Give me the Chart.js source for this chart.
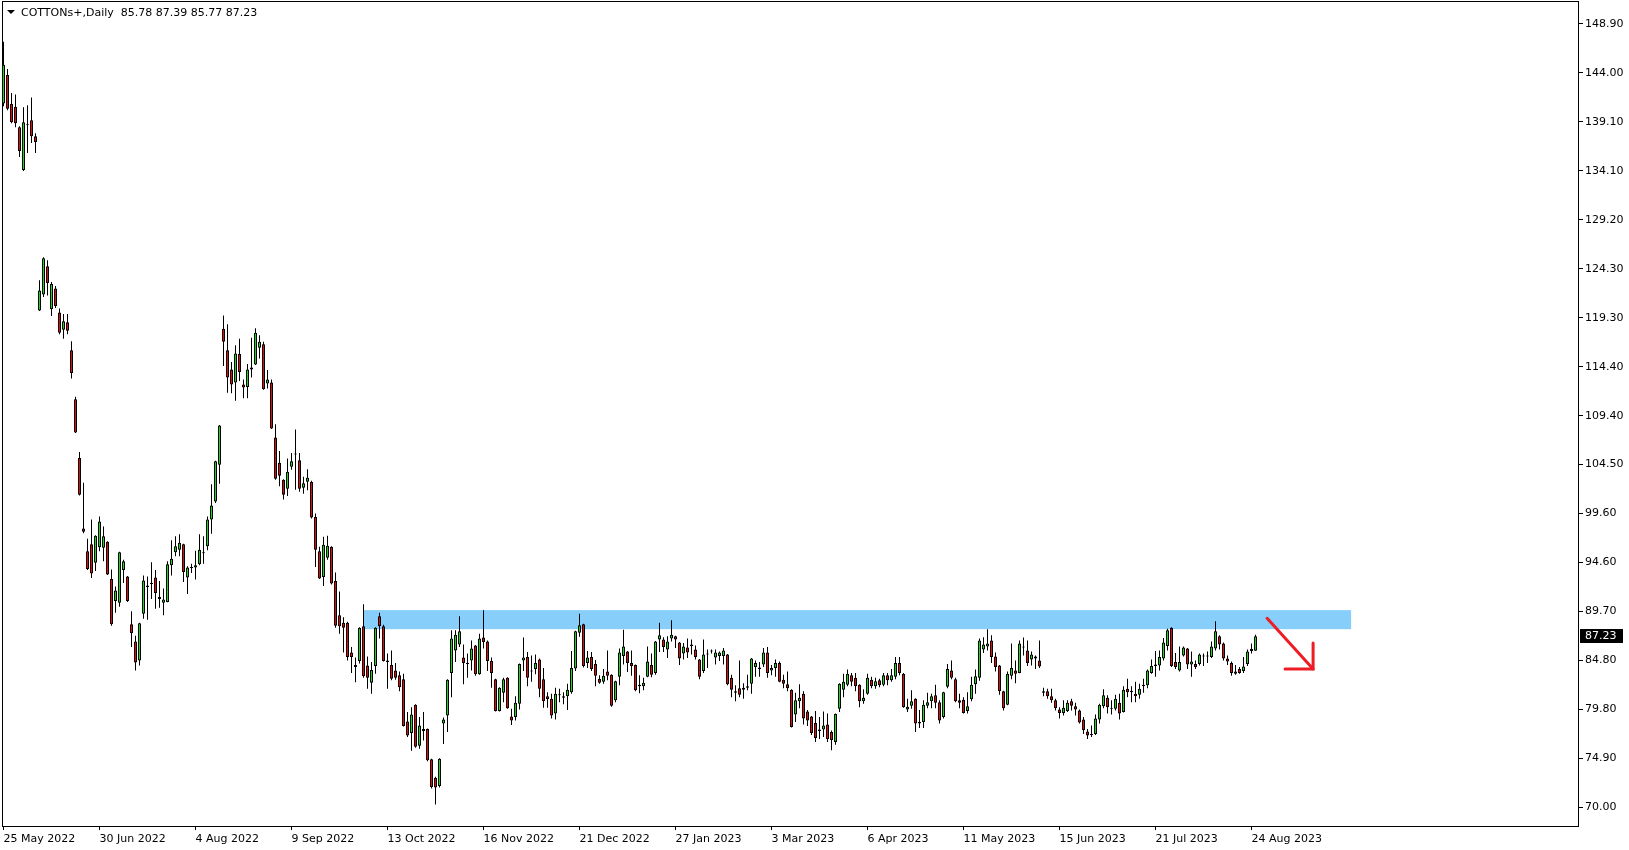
<!DOCTYPE html>
<html>
<head>
<meta charset="utf-8">
<script src="https://cdn.jsdelivr.net/npm/chart.js@4.4.0/dist/chart.umd.min.js"></script>
<style>
  html, body { margin: 0; padding: 0; background: #fff; }
  canvas { display: block; }
</style>
</head>
<body>
<canvas id="chart" width="1629" height="850"></canvas>
<script>
// Daily candles, one per trading day, index 0 = 25 May 2022
const opens = [
  140.9, 143.75, 140.85, 140.55, 138.5, 134.2, 138.75, 139.2, 137.6, 120.05,
  121.65, 124.5, 120.2, 122.25, 119.85, 118.1, 118.85, 116.05, 111.1, 105.2,
  98.1, 95.8, 96.5, 94.65, 96.2, 96.15, 96.75, 93.0, 90.8, 90.6,
  93.9, 93.25, 88.45, 86.7, 84.8, 89.5, 92.2, 92.5, 93.15, 91.2,
  90.6, 90.7, 94.4, 95.7, 95.95, 96.5, 93.15, 94.1, 94.15, 94.5,
  95.6, 96.3, 99.0, 100.8, 104.5, 118.2, 116.05, 114.1, 112.8, 115.65,
  112.6, 112.35, 114.3, 114.6, 116.3, 116.65, 112.7, 112.8, 107.25, 104.7,
  103.0, 102.1, 104.3, 105.55, 104.95, 102.2, 102.8, 102.8, 99.25, 95.8,
  93.2, 95.15, 96.25, 92.8, 89.35, 88.6, 88.6, 85.6, 84.35, 84.75,
  88.25, 84.3, 82.55, 84.25, 89.25, 88.25, 84.8, 84.35, 83.8, 83.3,
  82.9, 78.65, 77.5, 80.35, 76.2, 77.9, 77.9, 74.85, 73.0, 72.15,
  78.45, 79.25, 83.55, 85.8, 86.4, 85.1, 84.5, 84.8, 86.3, 83.4,
  87.1, 86.7, 84.75, 82.9, 79.7, 81.55, 83.05, 79.15, 79.1, 80.45,
  84.8, 85.15, 83.75, 83.95, 84.9, 82.9, 81.2, 80.95, 79.45, 81.35,
  81.2, 81.2, 81.6, 84.0, 87.6, 88.45, 84.55, 85.15, 84.45, 82.95,
  82.65, 83.7, 83.35, 80.8, 83.15, 85.25, 85.7, 84.55, 84.35, 82.35,
  82.2, 83.15, 84.35, 83.55, 86.9, 86.9, 85.9, 87.0, 87.25, 86.6,
  85.5, 86.1, 86.4, 85.9, 84.9, 83.75, 85.45, 85.75, 85.1, 85.25,
  85.25, 85.4, 83.05, 81.7, 82.0, 82.05, 82.05, 82.45, 84.15, 84.1,
  84.4, 85.6, 83.8, 84.05, 84.55, 82.85, 82.4, 81.85, 79.35, 80.7,
  81.45, 79.65, 79.15, 78.5, 77.85, 77.85, 78.35, 77.6, 76.6, 79.95,
  81.85, 82.35, 83.3, 83.05, 82.35, 80.7, 81.45, 82.85, 82.2, 82.8,
  82.35, 83.3, 82.8, 83.15, 84.55, 83.45, 79.85, 80.25, 80.95, 78.6,
  78.6, 80.25, 80.7, 81.3, 80.6, 79.1, 82.15, 83.8, 82.9, 80.8,
  80.85, 79.7, 80.9, 82.4, 83.05, 85.9, 86.2, 86.8, 85.2, 84.3,
  81.7, 80.35, 83.25, 83.8, 83.55, 86.2, 85.8, 84.9, 85.2, 84.8,
  81.7, 81.7, 81.2, 80.8, 79.85, 79.5, 79.7, 80.7, 80.2, 79.75,
  78.85, 77.65, 77.3, 77.4, 78.85, 80.2, 81.05, 80.05, 79.95, 80.55,
  79.6, 81.95, 81.75, 81.45, 81.35, 82.2, 82.3, 83.55, 84.25, 84.3,
  85.0, 86.25, 88.1, 84.65, 83.8, 85.3, 86.0, 84.4, 84.45, 84.45,
  85.2, 85.3, 85.15, 86.0, 87.25, 86.5, 85.0, 84.55, 83.7, 83.95,
  83.75, 84.45, 85.75, 85.78
];
const highs = [
  147.1, 144.35, 141.95, 141.8, 138.6, 140.5, 140.7, 141.5, 137.9, 123.1,
  125.4, 125.1, 122.9, 122.5, 120.25, 119.7, 119.7, 116.95, 111.35, 105.8,
  102.7, 97.05, 99.0, 97.4, 99.3, 98.3, 96.8, 93.95, 92.25, 95.75,
  94.95, 93.3, 89.75, 87.3, 88.6, 93.35, 93.25, 94.7, 93.9, 92.8,
  92.05, 94.8, 96.9, 97.3, 97.5, 96.55, 94.3, 94.55, 95.85, 97.5,
  97.3, 99.3, 102.55, 104.9, 108.5, 119.55, 118.65, 114.85, 116.55, 117.2,
  113.1, 114.65, 117.3, 118.25, 117.55, 116.9, 114.05, 113.1, 108.6, 105.9,
  103.05, 105.15, 105.7, 108.05, 105.7, 103.3, 104.05, 102.9, 99.6, 96.25,
  97.25, 97.35, 96.3, 93.65, 91.75, 89.15, 88.7, 86.15, 85.1, 88.15,
  90.45, 85.2, 84.65, 88.15, 89.6, 88.4, 85.5, 85.8, 84.55, 83.7,
  83.45, 79.6, 80.1, 80.4, 79.1, 79.6, 77.95, 74.9, 73.1, 74.95,
  79.05, 82.9, 87.85, 87.85, 89.25, 86.4, 85.5, 86.8, 86.35, 87.5,
  89.85, 86.8, 85.1, 82.95, 82.1, 83.05, 83.1, 79.95, 81.2, 84.5,
  87.1, 85.65, 85.3, 85.4, 85.0, 84.05, 81.6, 81.45, 82.05, 81.95,
  81.6, 82.45, 85.75, 87.8, 89.5, 88.5, 85.75, 85.65, 84.85, 83.3,
  83.95, 85.8, 83.4, 82.75, 86.0, 87.9, 85.75, 85.8, 84.4, 83.3,
  83.05, 86.2, 85.5, 86.75, 88.6, 87.15, 87.25, 88.85, 87.3, 86.65,
  86.55, 87.0, 86.9, 86.3, 84.95, 86.9, 85.9, 85.9, 85.9, 85.7,
  86.05, 85.45, 83.35, 82.3, 84.8, 82.5, 83.35, 85.05, 84.8, 84.65,
  86.05, 86.15, 84.35, 84.9, 84.7, 83.35, 83.7, 81.9, 81.55, 82.4,
  81.7, 79.8, 79.2, 79.7, 79.1, 79.65, 79.45, 77.75, 79.45, 82.5,
  83.45, 83.9, 83.55, 83.55, 82.4, 81.9, 83.45, 83.15, 83.05, 82.95,
  83.55, 83.55, 83.95, 85.15, 85.15, 83.55, 80.95, 81.8, 81.0, 79.8,
  80.8, 81.55, 81.45, 82.35, 80.8, 81.65, 84.45, 84.8, 83.05, 81.45,
  81.1, 81.6, 83.15, 83.9, 87.0, 87.15, 87.95, 87.35, 85.6, 84.35,
  81.75, 83.7, 86.5, 84.8, 86.8, 87.1, 86.8, 85.7, 85.3, 86.8,
  82.05, 81.95, 81.95, 80.95, 80.1, 80.8, 80.8, 80.95, 80.55, 79.85,
  79.1, 77.9, 78.25, 79.35, 80.45, 81.9, 81.3, 80.8, 81.35, 81.45,
  82.2, 82.95, 82.2, 82.65, 82.45, 82.95, 83.9, 84.9, 85.75, 85.8,
  87.05, 88.0, 88.15, 85.55, 86.2, 86.2, 86.05, 85.7, 84.8, 85.5,
  85.5, 85.7, 86.7, 88.75, 87.35, 86.6, 85.3, 84.7, 84.35, 84.15,
  85.15, 85.9, 86.5, 87.39
];
const lows = [
  140.6, 140.2, 138.9, 138.5, 135.5, 134.1, 135.9, 136.9, 135.9, 120.0,
  121.4, 121.55, 119.5, 120.3, 117.65, 117.2, 117.65, 113.2, 107.7, 101.4,
  97.6, 93.9, 93.1, 93.8, 95.8, 94.8, 93.4, 88.3, 89.6, 90.2,
  92.6, 90.7, 86.15, 83.8, 84.3, 89.0, 88.9, 91.0, 90.0, 90.1,
  89.35, 90.65, 93.35, 95.3, 95.3, 92.7, 91.5, 93.6, 92.95, 94.4,
  94.55, 95.9, 97.55, 100.65, 102.6, 114.45, 111.75, 111.7, 110.95, 112.95,
  111.2, 111.2, 113.3, 114.55, 115.2, 112.05, 112.2, 108.1, 103.0, 102.35,
  101.0, 101.35, 104.0, 102.0, 101.8, 101.6, 101.95, 99.1, 94.2, 93.0,
  92.3, 94.95, 92.45, 88.1, 87.5, 85.6, 84.8, 83.55, 82.6, 84.5,
  83.05, 81.95, 81.45, 83.45, 87.0, 84.7, 81.95, 82.8, 82.85, 81.7,
  78.15, 77.1, 75.7, 76.0, 75.9, 76.75, 74.65, 71.9, 70.3, 72.0,
  76.4, 77.6, 81.1, 84.65, 86.15, 82.4, 83.05, 83.8, 83.25, 83.35,
  86.0, 83.75, 82.05, 79.65, 79.65, 80.6, 79.95, 78.3, 78.75, 79.85,
  83.75, 82.2, 82.65, 83.4, 81.1, 80.05, 80.05, 78.95, 78.85, 80.6,
  80.4, 79.8, 81.45, 83.75, 87.2, 84.1, 84.05, 83.75, 82.2, 82.45,
  82.45, 82.8, 80.15, 80.6, 82.3, 84.4, 83.65, 83.25, 81.7, 81.5,
  81.8, 83.1, 83.1, 83.35, 85.65, 85.65, 85.05, 86.7, 86.05, 84.35,
  84.9, 85.05, 85.4, 84.9, 82.9, 83.55, 84.05, 85.5, 84.4, 84.75,
  84.4, 82.3, 81.1, 80.7, 81.1, 80.95, 81.8, 81.45, 83.15, 83.15,
  84.15, 83.05, 83.3, 83.15, 82.6, 82.0, 81.7, 78.05, 78.6, 80.0,
  78.35, 78.2, 77.3, 76.6, 76.9, 77.1, 76.6, 75.75, 76.3, 79.6,
  81.1, 82.2, 82.2, 81.7, 80.1, 80.45, 81.35, 82.0, 81.95, 82.1,
  82.2, 82.3, 82.65, 82.9, 83.3, 80.05, 79.6, 79.95, 77.6, 78.0,
  78.0, 80.0, 80.0, 80.0, 78.45, 78.95, 82.0, 82.9, 80.6, 80.0,
  79.45, 79.45, 80.7, 81.45, 82.75, 85.55, 85.8, 84.55, 83.7, 81.35,
  79.75, 80.3, 82.9, 82.5, 83.5, 85.3, 84.25, 84.3, 83.95, 84.05,
  81.2, 80.95, 80.55, 79.75, 78.95, 79.25, 79.6, 79.75, 79.25, 78.45,
  77.4, 76.9, 77.1, 77.3, 78.45, 80.0, 79.45, 79.35, 79.75, 78.85,
  79.55, 81.1, 80.6, 80.6, 80.95, 81.55, 82.0, 83.45, 83.15, 83.8,
  84.8, 85.8, 84.15, 83.95, 83.7, 85.2, 83.95, 83.15, 83.95, 84.3,
  84.25, 84.55, 85.05, 85.8, 85.9, 84.8, 84.35, 83.25, 83.35, 83.45,
  83.55, 84.25, 85.5, 85.77
];
const closes = [
  144.8, 140.35, 139.0, 138.9, 136.1, 139.0, 138.7, 137.6, 137.0, 122.05,
  125.3, 122.8, 122.7, 120.5, 117.8, 118.95, 118.0, 113.75, 107.75, 101.5,
  97.75, 94.0, 93.55, 97.35, 98.8, 97.3, 93.45, 88.45, 91.85, 95.7,
  94.8, 90.8, 87.55, 84.6, 88.55, 92.85, 92.35, 92.55, 91.6, 91.0,
  90.95, 94.5, 95.05, 96.3, 96.65, 93.7, 94.15, 94.15, 94.4, 95.95,
  95.65, 99.0, 100.4, 104.85, 108.45, 116.9, 113.3, 112.6, 115.7, 113.85,
  112.3, 114.1, 114.1, 117.8, 116.9, 112.1, 113.1, 108.15, 103.1, 103.4,
  101.5, 103.8, 104.85, 105.6, 102.1, 102.65, 103.2, 99.2, 95.95, 93.05,
  96.45, 96.35, 92.55, 88.3, 88.25, 88.1, 85.15, 85.15, 84.15, 88.1,
  83.2, 83.05, 83.85, 88.1, 88.25, 84.75, 84.65, 82.95, 83.05, 82.1,
  78.2, 77.25, 79.35, 76.1, 78.25, 77.7, 74.75, 72.05, 72.0, 74.9,
  78.85, 82.85, 87.0, 87.4, 87.75, 84.55, 84.45, 86.0, 83.4, 87.0,
  86.65, 84.75, 83.55, 79.7, 82.05, 82.9, 80.0, 78.75, 80.55, 84.45,
  85.1, 83.05, 83.7, 84.55, 81.95, 80.7, 80.9, 79.25, 81.45, 81.3,
  81.05, 81.85, 84.05, 87.75, 88.35, 84.25, 85.1, 83.95, 83.25, 82.55,
  83.25, 83.25, 80.25, 82.7, 85.6, 86.2, 84.55, 84.25, 81.8, 82.2,
  82.55, 84.7, 83.35, 86.7, 87.35, 86.15, 86.7, 87.4, 86.9, 85.0,
  86.2, 85.6, 86.25, 85.15, 83.15, 85.4, 85.4, 85.7, 85.6, 85.6,
  85.8, 82.4, 81.85, 81.55, 81.35, 81.85, 82.2, 85.0, 84.55, 83.95,
  85.6, 83.55, 84.05, 84.55, 82.65, 82.45, 82.0, 78.1, 80.8, 81.05,
  78.95, 78.75, 77.5, 77.0, 77.7, 78.25, 76.9, 76.8, 79.4, 82.45,
  82.65, 83.45, 82.65, 82.2, 80.7, 81.05, 83.05, 82.2, 82.7, 82.3,
  83.3, 82.8, 83.3, 84.55, 83.55, 80.1, 80.15, 80.7, 78.45, 78.45,
  80.35, 80.6, 81.2, 80.55, 78.75, 81.6, 83.95, 83.05, 80.7, 80.55,
  79.5, 80.2, 82.35, 83.2, 86.8, 86.4, 86.5, 85.15, 84.15, 81.7,
  80.0, 83.45, 84.05, 83.45, 86.5, 86.1, 84.55, 85.4, 85.0, 84.2,
  81.55, 81.2, 80.8, 80.0, 79.5, 80.05, 80.55, 80.25, 79.85, 78.55,
  77.8, 77.25, 77.35, 78.95, 80.35, 81.3, 80.1, 79.95, 80.95, 79.45,
  81.85, 81.6, 81.6, 81.2, 81.95, 82.35, 83.8, 84.25, 84.4, 85.15,
  86.6, 87.85, 84.25, 84.15, 84.65, 86.1, 84.4, 84.7, 84.15, 85.4,
  85.25, 85.2, 86.2, 87.75, 86.4, 85.0, 84.7, 83.55, 83.45, 83.55,
  84.2, 85.7, 85.95, 87.23
];

// Time axis labels (bar index -> date)
const xTickIndex = [0, 24, 48, 72, 96, 120, 144, 168, 192, 216, 240, 264, 288, 312];
const xTickLabels = ['25 May 2022', '30 Jun 2022', '4 Aug 2022', '9 Sep 2022', '13 Oct 2022',
  '16 Nov 2022', '21 Dec 2022', '27 Jan 2023', '3 Mar 2023', '6 Apr 2023', '11 May 2023',
  '15 Jun 2023', '21 Jul 2023', '24 Aug 2023'];

// Price axis
const yTickValues = [70.00, 74.93, 79.86, 84.79, 89.73, 94.66, 99.59, 104.52, 109.45,
  114.38, 119.31, 124.24, 129.18, 134.11, 139.04, 143.97, 148.90];
const yTickLabels = ['70.00', '74.90', '79.80', '84.80', '89.70', '94.60', '99.60', '104.50',
  '109.40', '114.40', '119.30', '124.30', '129.20', '134.10', '139.10', '144.00', '148.90'];

// Resistance zone (bar index / price)
const zoneStart = 89.9, zoneEnd = 336.9;
const zoneLow = 87.95, zoneHigh = 89.87;

// Hand-drawn arrow
const arrowShaft = [{ x: 315.9, y: 89.05 }, { x: 327.4, y: 83.95 }];
const arrowHead = [{ x: 320.4, y: 83.95 }, { x: 327.4, y: 83.95 }, { x: 327.4, y: 86.55 }];

const symbol = 'COTTONs+,Daily';
const BULL = '#10e010';
const BEAR = '#e80808';

const idx = opens.map((_, i) => i);
const bodyColors = idx.map(i => closes[i] >= opens[i] ? BULL : BEAR);

// no extra space for overflowing tick labels, MT4 style frame
const noPad = s => { s.paddingTop = 0; s.paddingBottom = 0; s.paddingLeft = 0; s.paddingRight = 0; };

const mtPlugin = {
  id: 'mtFrame',
  beforeDatasetsDraw(chart) {
    const { ctx, scales: { x, y } } = chart;
    const x1 = x.getPixelForValue(zoneStart), x2 = x.getPixelForValue(zoneEnd);
    const y1 = y.getPixelForValue(zoneHigh), y2 = y.getPixelForValue(zoneLow);
    ctx.save();
    ctx.fillStyle = '#87cefa';
    ctx.fillRect(x1, y1, x2 - x1, y2 - y1);
    ctx.restore();
  },
  afterDraw(chart) {
    const { ctx, chartArea: a, scales: { y } } = chart;
    ctx.save();
    ctx.strokeStyle = '#000';
    ctx.lineWidth = 1;
    ctx.strokeRect(a.left + 0.5, a.top + 0.5, a.right - a.left - 1, a.bottom - a.top);

    const n = closes.length - 1;
    ctx.fillStyle = '#000';
    ctx.beginPath();
    ctx.moveTo(7, 10); ctx.lineTo(15, 10); ctx.lineTo(11, 14); ctx.closePath();
    ctx.fill();
    ctx.font = '11px "DejaVu Sans"';
    ctx.textBaseline = 'middle';
    ctx.textAlign = 'left';
    const vals = [opens[n], highs[n], lows[n], closes[n]].map(v => v.toFixed(2)).join(' ');
    ctx.fillText(symbol + '  ' + vals, 21, 13);

    // current price tag
    const py = Math.round(y.getPixelForValue(closes[n]));
    ctx.fillRect(a.right + 1, py - 7, 43, 14);
    ctx.fillStyle = '#fff';
    ctx.fillText(closes[n].toFixed(2), a.right + 6, py + 0.5);
    ctx.restore();
  }
};

new Chart(document.getElementById('chart'), {
  type: 'bar',
  data: {
    datasets: [
      {
        type: 'line', data: arrowShaft, borderColor: '#ee1c24', borderWidth: 3,
        pointRadius: 0, order: -2, borderCapStyle: 'round'
      },
      {
        type: 'line', data: arrowHead, borderColor: '#ee1c24', borderWidth: 3,
        pointRadius: 0, order: -1, borderCapStyle: 'round', borderJoinStyle: 'miter'
      },
      {
        label: 'body',
        data: idx.map(i => ({ x: i, y: [opens[i], closes[i]] })),
        backgroundColor: bodyColors,
        borderColor: '#000',
        borderWidth: 1,
        borderSkipped: false,
        barThickness: 3,
        minBarLength: 1,
        grouped: false,
        inflateAmount: 0,
        order: 0
      },
      {
        label: 'wick',
        data: idx.map(i => ({ x: i, y: [lows[i], highs[i]] })),
        backgroundColor: '#000',
        borderWidth: 0,
        barThickness: 1,
        grouped: false,
        inflateAmount: 0,
        order: 1
      }
    ]
  },
  options: {
    responsive: false,
    animation: false,
    devicePixelRatio: 1,
    layout: { padding: { left: 2, top: 1, right: 0, bottom: 0 } },
    plugins: { legend: { display: false }, tooltip: { enabled: false } },
    scales: {
      x: {
        type: 'linear', min: -0.375, max: 393.875, offset: false, bounds: 'data',
        grid: { drawOnChartArea: false, drawTicks: true, tickLength: 4, color: '#000', offset: false },
        border: { display: false },
        afterBuildTicks: s => { s.ticks = xTickIndex.map(v => ({ value: v })); },
        afterFit: s => { s.height = 24; noPad(s); },
        ticks: {
          autoSkip: false, maxRotation: 0, align: 'start', padding: 3, color: '#000',
          font: { family: 'DejaVu Sans', size: 11 },
          callback: v => xTickLabels[xTickIndex.indexOf(v)]
        }
      },
      y: {
        type: 'linear', position: 'right', min: 68.13, max: 151.21, bounds: 'data',
        grid: { drawOnChartArea: false, drawTicks: true, tickLength: 4, color: '#000' },
        border: { display: false },
        afterBuildTicks: s => { s.ticks = yTickValues.map(v => ({ value: v })); },
        afterFit: s => { s.width = 50; noPad(s); },
        ticks: {
          padding: 2, color: '#000',
          font: { family: 'DejaVu Sans', size: 11 },
          callback: (v, i) => yTickLabels[i]
        }
      }
    }
  },
  plugins: [mtPlugin]
});
</script>
</body>
</html>
